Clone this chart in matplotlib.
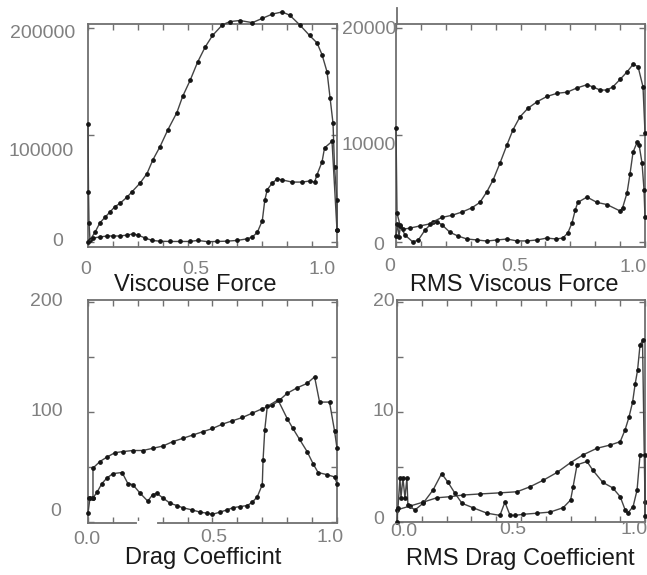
import matplotlib
matplotlib.use("Agg")
import matplotlib.pyplot as plt
from matplotlib.lines import Line2D
import numpy as np

plt.rcParams['font.family'] = ['Liberation Sans', 'DejaVu Sans']

# ---------------- data ----------------
# Viscouse Force
vf_a_x = [0, 0.002, 0.004, 0.008, 0.028, 0.048, 0.068, 0.088, 0.108, 0.128, 0.157, 0.177, 0.209, 0.237,
          0.261, 0.289, 0.321, 0.357, 0.38, 0.41, 0.44, 0.47, 0.50, 0.54, 0.57, 0.61, 0.66, 0.70, 0.74,
          0.78, 0.81, 0.85, 0.89, 0.92, 0.94, 0.96, 0.972, 0.984, 0.99, 1.0, 1.0]
vf_a = [110000, 47000, 18000, 2000, 9000, 18000, 23000, 28000, 33000, 36000, 42000, 47000, 55000, 64000,
        77000, 89000, 105000, 121000, 136000, 151000, 168000, 182000, 193000, 203000, 206000, 207000,
        205000, 209000, 213000, 215000, 212000, 203000, 193000, 186000, 175000, 159000, 135000, 111000,
        70000, 39000, 11000]
vf_b_x = [0, 0.02, 0.048, 0.076, 0.10, 0.128, 0.157, 0.18, 0.20, 0.23, 0.257, 0.29, 0.33, 0.37, 0.41,
          0.44, 0.48, 0.52, 0.56, 0.60, 0.64, 0.66, 0.68, 0.70, 0.71, 0.72, 0.74, 0.76, 0.78, 0.82, 0.86,
          0.89, 0.91, 0.92, 0.94, 0.95, 0.98, 1.0]
vf_b = [0, 3700, 4700, 5600, 5600, 5600, 6500, 7500, 6500, 3700, 1500, 700, 500, 500, 500, 1500, 300,
        500, 800, 1500, 3000, 4700, 9000, 20000, 39000, 49000, 55000, 59000, 58000, 56000, 56000, 57000,
        56000, 63000, 75000, 88000, 94000, 11000]

# RMS Viscous Force
rv_a_x = [0, 0.004, 0.016, 0.036, 0.068, 0.09, 0.116, 0.149, 0.185, 0.225, 0.265, 0.305, 0.337, 0.365,
          0.39, 0.418, 0.446, 0.47, 0.498, 0.53, 0.566, 0.606, 0.647, 0.687, 0.727, 0.767, 0.79, 0.82,
          0.847, 0.871, 0.90, 0.928, 0.952, 0.972, 0.992, 1.0]
rv_a = [10700, 2700, 1600, 650, 0, 200, 1100, 1900, 2300, 2500, 2800, 3200, 3700, 4700, 5800, 7400, 9100,
        10500, 11700, 12500, 13100, 13600, 13900, 14000, 14400, 14700, 14500, 14200, 14200, 14500, 15200,
        15900, 16600, 16400, 14500, 10200]
rv_b_x = [0.0, 0.006, 0.012, 0.018, 0.03, 0.056, 0.096, 0.137, 0.165, 0.185, 0.217, 0.249, 0.285, 0.325,
          0.365, 0.406, 0.446, 0.486, 0.526, 0.566, 0.606, 0.643, 0.67, 0.69, 0.707, 0.72, 0.73, 0.767,
          0.807, 0.847, 0.90, 0.91, 0.928, 0.94, 0.952, 0.968, 0.976, 0.988, 0.996, 1.0]
rv_b = [600, 1700, 500, 1500, 1200, 1300, 1500, 1700, 1900, 1600, 900, 560, 280, 190, 90, 190, 280, 100,
        100, 190, 370, 280, 370, 840, 1800, 3000, 3700, 4200, 3700, 3500, 2900, 3200, 4600, 6400, 8400,
        9300, 9100, 7400, 4900, 2300]

# Drag Coefficint
dc_a_x = [0.004, 0.02, 0.02, 0.048, 0.076, 0.108, 0.14, 0.18, 0.22, 0.26, 0.30, 0.34, 0.38, 0.42, 0.46,
          0.50, 0.54, 0.58, 0.62, 0.66, 0.70, 0.74, 0.77, 0.80, 0.84, 0.88, 0.91, 0.93, 0.97, 0.99, 1.0]
dc_a = [22, 22, 49, 55, 59, 63, 64, 65, 65, 67, 69, 73, 76, 79, 82, 85, 89, 92, 95, 99, 103, 106, 111,
        117, 122, 126, 132, 109, 109, 83, 67]
dc_b_x = [0, 0.008, 0.02, 0.036, 0.056, 0.076, 0.10, 0.137, 0.16, 0.18, 0.21, 0.24, 0.26, 0.277, 0.30,
          0.33, 0.357, 0.38, 0.418, 0.45, 0.478, 0.50, 0.53, 0.558, 0.582, 0.61, 0.64, 0.66, 0.68, 0.70,
          0.703, 0.71, 0.72, 0.763, 0.80, 0.823, 0.85, 0.88, 0.904, 0.924, 0.96, 0.99, 1.0]
dc_b = [8, 22, 22, 27, 35, 40, 44, 45, 35, 34, 26, 19, 25, 26, 22, 17, 15, 13, 11, 9, 8, 7, 9, 11, 13,
        14, 15, 18, 23, 34, 56, 84, 105, 111, 94, 85, 75, 64, 53, 45, 43, 41, 35]

# RMS Drag Coefficient
rd_a_x = [0.0, 0.052, 0.105, 0.16, 0.214, 0.266, 0.335, 0.415, 0.484, 0.536, 0.59, 0.645, 0.70, 0.75,
          0.806, 0.86, 0.90, 0.92, 0.935, 0.95, 0.96, 0.97, 0.98, 0.99, 1.0]
rd_a = [1.1, 1.45, 1.8, 2.2, 2.3, 2.45, 2.55, 2.65, 2.75, 3.2, 3.8, 4.5, 5.4, 6.1, 6.7, 7.0, 7.3, 8.4,
        9.5, 10.9, 12.5, 13.8, 16.1, 16.5, 1.8]
rd_b_x = [0.0, 0.004, 0.012, 0.016, 0.024, 0.032, 0.04, 0.044, 0.073, 0.105, 0.145, 0.18, 0.206, 0.234,
          0.262, 0.306, 0.363, 0.415, 0.435, 0.456, 0.476, 0.508, 0.565, 0.617, 0.67, 0.70, 0.71, 0.726,
          0.766, 0.79, 0.83, 0.87, 0.90, 0.92, 0.93, 0.952, 0.968, 0.98, 1.0, 1.0]
rd_b = [0, 1.3, 4.0, 2.2, 4.0, 2.2, 4.0, 1.5, 1.1, 1.7, 2.9, 4.4, 3.6, 2.6, 1.7, 1.3, 0.8, 0.6, 1.8, 0.6,
        0.6, 0.7, 0.8, 0.9, 1.3, 2.0, 3.2, 5.2, 5.5, 4.7, 3.6, 3.1, 2.3, 1.1, 0.8, 1.4, 2.9, 6.1, 6.1, 0.5]

titles = ["Viscouse Force", "RMS Viscous Force", "Drag Coefficint", "RMS Drag Coefficient"]
xtick_labels_top = ["0", "0.5", "1.0"]
xtick_labels_bottom = ["0.0", "0.5", "1.0"]
ytick_labels = [["200000", "100000", "0"], ["20000", "10000", "0"], ["200", "100", "0"], ["20", "10", "0"]]

# ---------------- layout ----------------
W, H = 647, 575
fig = plt.figure(figsize=(W / 100, H / 100), dpi=100)
fig.patch.set_facecolor('white')

def axes_px(l, t, r, b):
    return fig.add_axes([l / W, 1 - b / H, (r - l) / W, (b - t) / H])

def ftext(px, py, s, **kw):
    fig.text(px / W, 1 - py / H, s, **kw)

panels = [
    dict(box=(88, 24, 337, 247), ylim=(-4673, 203738), yt=[0, 100000, 200000],
         series=[(vf_a_x, vf_a), (vf_b_x, vf_b)],
         ylab_pos=[(75, 33), (74, 152), (63, 242)],
         xlab_pos=[(86, 270), (196, 269), (322, 269)], xl=xtick_labels_top,
         title_pos=(195, 285)),
    dict(box=(396, 24, 645, 247), ylim=(-467, 20374), yt=[0, 10000, 20000],
         series=[(rv_a_x, rv_a), (rv_b_x, rv_b)],
         ylab_pos=[(396, 30), (396, 145), (384, 245)],
         xlab_pos=[(390, 267), (515, 267), (633, 268)], xl=xtick_labels_top,
         title_pos=(514, 285)),
    dict(box=(88, 300, 337, 523), ylim=(-0.9, 201.8), yt=[0, 50, 100, 150, 200],
         series=[(dc_a_x, dc_a), (dc_b_x, dc_b)],
         ylab_pos=[(63, 302), (63, 412), (61, 512)],
         xlab_pos=[(87, 540), (214, 538), (330, 538)], xl=xtick_labels_bottom,
         title_pos=(203, 558)),
    dict(box=(397, 300, 645, 522), ylim=(0, 20.18), yt=[0, 5, 10, 15, 20],
         series=[(rd_a_x, rd_a), (rd_b_x, rd_b)],
         ylab_pos=[(395, 302), (394, 412), (384, 520)],
         xlab_pos=[(404, 531), (513, 529), (634, 530)], xl=xtick_labels_bottom,
         title_pos=(520, 559)),
]

spine_col = '#707070'
label_col = '#808080'
line_col = '#444444'

for i, p in enumerate(panels):
    ax = axes_px(*p['box'])
    ax.set_xlim(0, 1)
    ax.set_ylim(*p['ylim'])
    ax.set_xticks(np.linspace(0, 1, 11))
    ax.set_yticks(p['yt'])
    ax.tick_params(direction='in', length=4, width=1, color=spine_col,
                   top=True, right=True, labelbottom=False, labelleft=False)
    for s in ax.spines.values():
        s.set_color(spine_col)
        s.set_linewidth(1.3)
    for xs, ys in p['series']:
        ax.plot(xs, ys, color=line_col, lw=1.0, marker='o', ms=2.4,
                mfc='#151515', mec='#151515', clip_on=False, zorder=3)
    # tick labels
    for (px, py), s in zip(p['ylab_pos'], ytick_labels[i]):
        ftext(px, py, s, ha='right', va='center', fontsize=14, color=label_col)
    for (px, py), s in zip(p['xlab_pos'], p['xl']):
        ftext(px, py, s, ha='center', va='center', fontsize=14, color=label_col)
    ftext(p['title_pos'][0], p['title_pos'][1], titles[i], ha='center', va='center',
          fontsize=17, color='#1a1a1a')
    if i == 2:
        ax.axhline(p['ylim'][0], xmin=0.205, xmax=0.27, color='white', lw=3,
                   clip_on=False, zorder=4)

# left spine of the top-right panel sticks out above the frame
fig.add_artist(Line2D([396.5 / W, 396.5 / W], [1 - 8 / H, 1 - 24 / H], color=spine_col, lw=1.3,
                      transform=fig.transFigure))

fig.savefig('out.png', dpi=100, facecolor='white')
